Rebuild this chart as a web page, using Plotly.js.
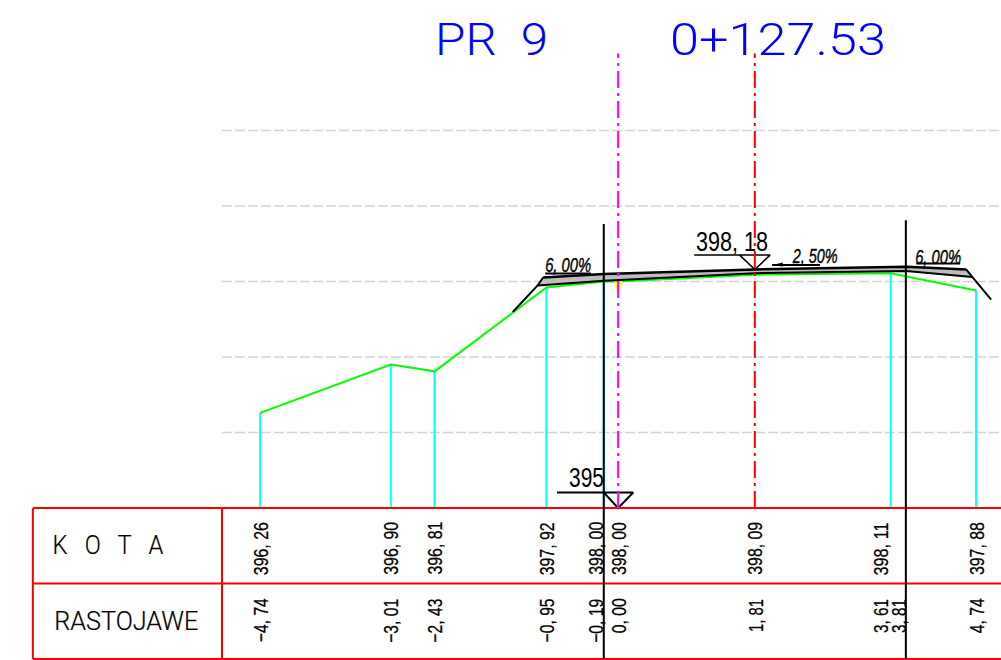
<!DOCTYPE html>
<html><head><meta charset="utf-8">
<script src="https://cdn.plot.ly/plotly-3.0.1.min.js"></script>
<style>html,body{margin:0;padding:0;background:#fff}#c{width:1001px;height:660px}</style>
</head><body><div id="c"></div>
<script>
// Chart values: offset from axis (m), elevation (m)
const stations   = [-4.74, -3.01, -2.43, -0.95, -0.19, 0, 1.81, 3.61, 3.81, 4.74];
const kotaLabels = ['396, 26','396, 90','396, 81','397, 92','398, 00','398, 00','398, 09','398, 11','','397, 88'];
const distLabels = ['−4, 74','−3, 01','−2, 43','−0, 95','−0, 19','0, 00','1, 81','3, 61','3, 81','4, 74'];

const terrainX = [-4.74, -3.01, -2.43, -0.95, -0.19, 0, 1.81, 3.61, 4.74];
const terrainZ = [396.26, 396.90, 396.81, 397.92, 398.00, 398.00, 398.09, 398.11, 397.88];
const dropX = [-4.74, -3.01, -2.43, -0.95, -0.19, 3.61, 4.74];
const dropZ = [396.26, 396.90, 396.81, 397.92, 398.00, 398.11, 397.88];

const roadTopX = [-0.993, -0.185, 1.815, 3.815, 4.609];
const roadTopZ = [398.053, 398.099, 398.159, 398.195, 398.159];
const roadBotX = [-1.066, -0.185, 1.815, 3.815, 4.689];
const roadBotZ = [397.947, 398.01, 398.11, 398.14, 398.06];
const slopeLX = [-0.993, -1.066, -1.395];
const slopeLZ = [398.053, 397.947, 397.596];
const slopeRX = [4.609, 4.689, 4.94];
const slopeRZ = [398.159, 398.06, 397.76];

const edgeX = [-0.19, 3.81];
const edgeTop = [398.76, 398.81];
const tableBottom = 393.0;
const gridLevels = [396, 397, 398, 399, 400];
const gridFrom = -5.245, viewRight = 5.07, viewLeft = -8.185;
const tableLeft = -7.75;
const tableRows = [395, 394, 393];
const axisTop = 401.02;
const centreX = 0, axisX = 1.81;

const datumLineX = [-0.81, 0.2], datumZ = 395.205;
const gradeLineX = [1.007, 2.013], gradeZ = 398.35;
const gradeTipX = 1.81, gradeTipZ = 398.159;

const noteLines = [
  {x:[-0.967,-0.358], z:[398.106,398.106]},
  {x:[3.947,4.53],    z:[398.238,398.238]},
  {x:[2.04,2.675],    z:[398.22,398.22]}
];
const arrowX = [2.04,2.18,2.18,2.04], arrowZ = [398.22,398.25,398.20,398.22];

const yellowX = [-0.04, 0, 0.04], yellowZ = [398.01, 397.86, 398.01];

const titleLeft = 'PR  9', titleRight = '0+127.53';

// style
const shift = [0, 0, 0, 0, -8, 0, 0, -10, -7, 0];
const distSpan = [44,44,44,44,44,35,33,34,34,35];
const digitFont = {family:'"Liberation Sans",sans-serif', size:21, color:'#000'};

function line(x,y,color,width,dash){
  return {type:'scatter',mode:'lines',x,y,hoverinfo:'skip',showlegend:false,
          line:{color,width,dash:dash||'solid',simplify:false}};
}
const traces = [];
gridLevels.forEach(g=>traces.push(line([gridFrom,viewRight],[g,g],'#d4d4d4',1.5,'10px,3px')));
dropX.forEach((x,i)=>traces.push(line([x,x],[395,dropZ[i]],'#00ffff',2)));
traces.push(line(terrainX,terrainZ,'#00ff00',2));
traces.push(line(yellowX,yellowZ,'#ffff00',2));
// road body
traces.push({type:'scatter',mode:'lines',hoverinfo:'skip',showlegend:false,fill:'toself',fillcolor:'#bdbdbd',
  x:roadTopX.concat(roadBotX.slice().reverse()),y:roadTopZ.concat(roadBotZ.slice().reverse()),line:{width:0}});
traces.push(line(roadTopX,roadTopZ,'#000',2.5));
traces.push(line(roadBotX,roadBotZ,'#000',2));
traces.push(line(slopeLX,slopeLZ,'#000',2));
traces.push(line(slopeRX,slopeRZ,'#000',2));
// markers
traces.push(line([datumLineX[0],datumLineX[1],0,-0.19],[datumZ,datumZ,395,datumZ],'#000',2));
traces.push(line([gradeLineX[0],gradeLineX[1],gradeTipX,gradeTipX-0.2],[gradeZ,gradeZ,gradeTipZ,gradeZ],'#000',1.6));
noteLines.forEach(n=>traces.push(line(n.x,n.z,'#000',2)));
traces.push({type:'scatter',mode:'lines',x:arrowX,y:arrowZ,fill:'toself',fillcolor:'#000',line:{width:0},hoverinfo:'skip',showlegend:false});
// table
tableRows.forEach(r=>traces.push(line([tableLeft,viewRight],[r,r],'#f00',2)));
[tableLeft,gridFrom].forEach(x=>traces.push(line([x,x],[tableBottom,395],'#f00',2)));
// axes
const dd='17px,5px,3px,5px';
traces.push(line([centreX,centreX],[395,axisTop],'#f0f',2,dd));
traces.push(line([axisX,axisX],[395,axisTop],'#f00',2,dd));
edgeX.forEach((x,i)=>traces.push(line([x,x],[tableBottom,edgeTop[i]],'#000',2)));

const ann = [], spans = [], heavy = [];
function txt(text,x,y,font,span,weightPx,opt){
  ann.push(Object.assign({text,x,y,xref:'x',yref:'y',showarrow:false,font,borderpad:0,borderwidth:0,xanchor:'center',yanchor:'middle'},opt||{}));
  spans.push(span); heavy.push(weightPx);
}
stations.forEach((s,i)=>{
  if(kotaLabels[i]) txt(kotaLabels[i],s,395,digitFont,53,0.25,{textangle:-90,xshift:shift[i],yshift:-40.5});
  txt(distLabels[i],s,394,digitFont,distSpan[i],0.25,{textangle:-90,xshift:shift[i],yshift:-(15+distSpan[i]/2)});
});
const titleFont={family:'Roboto,sans-serif',size:45,color:'#0000ff',weight:300};
txt(titleLeft,-1.675,401.2,titleFont,113,0);
txt(titleRight,2.12,401.2,titleFont,216,0);
const lab={family:'Roboto,sans-serif',size:26,color:'#000',weight:300};
txt('K   O   T   A',-6.75,394.51,lab,111,0.2);
txt('RASTOJAWE',-6.52,393.51,lab,144,0.2);
const mk={family:'"Liberation Sans",sans-serif',size:27,color:'#000'};
txt('395',-0.417,395.4,mk,35,0);
txt('398, 18',1.51,398.523,mk,72,0);
const nt={family:'"Liberation Sans",sans-serif',size:20,color:'#000',style:'italic'};
txt('6, 00%',-0.67,398.22,nt,46,0.4);
txt('6, 00%',4.24,398.325,nt,46,0.4);
txt('2, 50%',2.60,398.338,nt,45,0.4);

const layout={width:1001,height:660,margin:{l:0,r:0,t:0,b:0,pad:0},paper_bgcolor:'#fff',plot_bgcolor:'#fff',showlegend:false,
  xaxis:{range:[viewLeft,viewRight],visible:false,fixedrange:true},
  yaxis:{range:[392.987,401.728],visible:false,fixedrange:true},
  annotations:ann};
Plotly.newPlot('c',traces,layout,{displayModeBar:false,staticPlot:true}).then(gd=>{
  // CAD lettering is narrower/wider than the installed faces: fit each text to its measured length
  gd.querySelectorAll('.annotation-text').forEach((t,i)=>{
    t.setAttribute('textLength',spans[i]);
    t.setAttribute('lengthAdjust','spacingAndGlyphs');
    if(heavy[i]){ t.style.stroke='#000'; t.style.strokeWidth=heavy[i]+'px'; }
  });
});
</script></body></html>
